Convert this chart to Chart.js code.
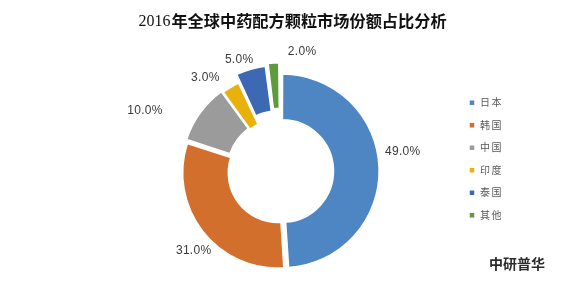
<!DOCTYPE html>
<html>
<head>
<meta charset="utf-8">
<title>2016年全球中药配方颗粒市场份额占比分析</title>
<script src="https://cdn.jsdelivr.net/npm/chart.js@4.4.1/dist/chart.umd.min.js"></script>
<style>
  body { margin: 0; background: #fff; }
  canvas { display: block; }
</style>
</head>
<body>
<canvas id="myChart" width="569" height="284"></canvas>
<script>
const countries = ["日本", "韩国", "中国", "印度", "泰国", "其他"];
const shares = [49.0, 31.0, 10.0, 3.0, 5.0, 2.0];

const sliceColors = ["#4E86C4", "#D26F2C", "#9B9B9B", "#E8B10C", "#3C68B4", "#5E9B40"];
// chart.js "offset" for each slice (exploded look)
const pullOut = [8, 12, 11, 5, 26, 28];
// label tweaks: degrees turned from the slice middle, px past the rim
const labelTurn = [-7, -5, -12, -8, -4, 14];
const labelGap = [29, 23, 53, 25, 24, 26];

const ctx = document.getElementById("myChart").getContext("2d");

// percent labels outside the ring
const sliceLabels = {
  id: "sliceLabels",
  afterDatasetsDraw(chart) {
    const c = chart.ctx;
    const meta = chart.getDatasetMeta(0);
    c.save();
    c.font = "12px 'Liberation Sans', Arial, sans-serif";
    c.letterSpacing = "0.3px";
    c.fillStyle = "#3a3a3a";
    c.textAlign = "center";
    c.textBaseline = "middle";
    meta.data.forEach((arc, i) => {
      const p = arc.getProps(["x", "y", "startAngle", "endAngle", "outerRadius"], true);
      const mid = (p.startAngle + p.endAngle) / 2 + (labelTurn[i] * Math.PI) / 180;
      const r = p.outerRadius + labelGap[i];
      c.fillText(shares[i].toFixed(1) + "%", p.x + Math.cos(mid) * r, p.y + Math.sin(mid) * r);
    });
    c.restore();
  },
};

// title (serif year + bold chinese) and the source mark
const headings = {
  id: "headings",
  beforeDraw(chart) {
    chart.ctx.letterSpacing = "1.5px"; // spaced legend text
  },
  beforeDatasetsDraw(chart) {
    chart.ctx.letterSpacing = "0px";
  },
  afterDraw(chart) {
    const c = chart.ctx;
    c.save();
    c.letterSpacing = "0px";
    c.textBaseline = "alphabetic";
    c.textAlign = "left";
    c.fillStyle = "#111";
    const year = "2016";
    const rest = "年全球中药配方颗粒市场份额占比分析";
    c.font = "16px 'Liberation Serif', serif";
    const w1 = c.measureText(year).width;
    c.font = "bold 16.2px 'Noto Sans CJK SC', sans-serif";
    const w2 = c.measureText(rest).width;
    let x = 292 - (w1 + w2) / 2;
    c.font = "16px 'Liberation Serif', serif";
    c.fillText(year, x, 26);
    c.font = "bold 16.2px 'Noto Sans CJK SC', sans-serif";
    c.fillText(rest, x + w1 + 1, 27);

    c.fillStyle = "#2b2b2b";
    c.font = "bold 14px 'Noto Sans CJK SC', sans-serif";
    c.textBaseline = "middle";
    c.fillText("中研普华", 489, 264);
    c.restore();
  },
};

const data = {
  labels: countries,
  datasets: [
    {
      data: shares,
      backgroundColor: sliceColors,
      borderColor: "#ffffff",
      borderWidth: 1.5,
      offset: pullOut,
    },
  ],
};

const config = {
  type: "doughnut",
  data: data,
  options: {
    responsive: false,
    animation: false,
    radius: 95,
    cutout: "52%",
    rotation: 0,
    layout: {
      padding: { top: 60, bottom: 2, left: 104, right: 59 },
    },
    plugins: {
      tooltip: { enabled: false },
      legend: {
        position: "right",
        align: "start",
        title: {
          display: true,
          text: "",
          font: { size: 10 },
          padding: { top: 13.2, bottom: 0 },
        },
        labels: {
          boxWidth: 6,
          boxHeight: 6,
          padding: 12.5,
          color: "#595959",
          font: { size: 10, family: "'Noto Sans CJK SC', sans-serif" },
        },
      },
    },
  },
  plugins: [sliceLabels, headings],
};

const myChart = new Chart(ctx, config);
</script>
</body>
</html>
